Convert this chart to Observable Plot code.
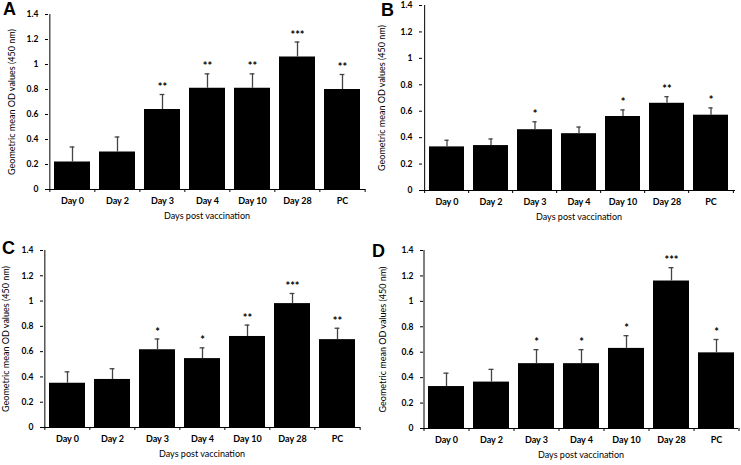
<!DOCTYPE html>
<html><head><meta charset="utf-8">
<script src="https://cdn.jsdelivr.net/npm/d3@7"></script>
<script src="https://cdn.jsdelivr.net/npm/@observablehq/plot@0.6"></script>
<style>
body{margin:0;background:#fff;font-family:Lato,"Open Sans",sans-serif;}
#root{position:relative;width:741px;height:465px;overflow:hidden;}
.panel{position:absolute;}
.letter{position:absolute;font-family:"Liberation Sans",Arial,sans-serif;font-weight:bold;font-size:18px;line-height:18px;}
</style>
</head><body>
<div id="root"></div>
<script>
const days = ["Day 0","Day 2","Day 3","Day 4","Day 10","Day 28","PC"];
const yTicks = [0,0.2,0.4,0.6,0.8,1,1.2,1.4];
const xTitle = "Days post vaccination";
const yTitle = "Geometric mean OD values (450 nm)";

const meanA = [0.22,0.30,0.64,0.81,0.81,1.06,0.80];
const topA  = [0.34,0.42,0.76,0.925,0.925,1.18,0.92];
const starsA = ["","","**","**","**","***","**"];

const meanB = [0.33,0.34,0.46,0.43,0.56,0.66,0.57];
const topB  = [0.38,0.39,0.52,0.48,0.61,0.71,0.625];
const starsB = ["","","*","","*","**","*"];

const meanC = [0.35,0.38,0.615,0.545,0.72,0.98,0.695];
const topC  = [0.44,0.465,0.70,0.63,0.81,1.06,0.785];
const starsC = ["","","*","*","**","***","**"];

const meanD = [0.33,0.365,0.51,0.51,0.63,1.16,0.595];
const topD  = [0.435,0.465,0.62,0.62,0.73,1.265,0.70];
const starsD = ["","","*","*","*","***","*"];

function panel(o){
  const data = days.map((d,i)=>({day:d, mean:o.mean[i], top:o.top[i], star:o.stars[i]}));
  const step = (o.width - o.ml - o.mr)/days.length;
  const bandw = step*0.8;
  const unitPx = (o.height - o.mt - o.mb)/1.4;
  const tickLen = 3/unitPx;
  const plot = Plot.plot({
    width:o.width, height:o.height,
    marginLeft:o.ml, marginRight:o.mr, marginTop:o.mt, marginBottom:o.mb,
    style:{fontFamily:"Lato, 'Open Sans', sans-serif", background:"white", overflow:"visible"},
    x:{domain:days, paddingInner:0.2, paddingOuter:0.1, axis:null},
    y:{domain:[0,1.4], axis:null},
    marks:[
      Plot.barY(data,{x:"day", y:"mean", fill:"black"}),
      Plot.ruleX(data,{x:"day", y1:"mean", y2:"top", stroke:"#444", strokeWidth:1.3}),
      Plot.tickY(data,{x:"day", y:"top", stroke:"#444", strokeWidth:1.3, insetLeft:bandw/2-2.5, insetRight:bandw/2-2.5}),
      Plot.text(data,{x:"day", y:"top", text:"star", dy:-7, fontSize:11, fontWeight:"bold", fill:"black"}),
      Plot.ruleY([0],{stroke:"black", strokeWidth:1}),
      Plot.ruleX([days[0]],{x:d=>d, dx:-step/2, y1:0, y2:1.4, stroke:"black", strokeWidth:1}),
      Plot.ruleX(days,{x:d=>d, dx:-step/2, y1:0, y2:-tickLen, stroke:"black"}),
      Plot.ruleX([days[days.length-1]],{x:d=>d, dx:step/2, y1:0, y2:-tickLen, stroke:"black"}),
      Plot.axisY({ticks:yTicks, tickSize:3, tickPadding:7, tickFormat:d=>String(+d.toFixed(1)), fontSize:8.5, fontWeight:"bold", label:null}),
      Plot.axisX({tickSize:0, tickPadding:8, fontSize:9, fontWeight:"bold", label:null}),
      Plot.text([xTitle],{frameAnchor:"bottom", dy:29, fontSize:9, fill:"black"}),
      Plot.text([yTitle],{frameAnchor:"left", textAnchor:"middle", dx:o.titleDx, rotate:-90, fontSize:9, fill:"black"})
    ]
  });
  const div = document.createElement("div");
  div.className = "panel";
  div.style.left = o.left+"px"; div.style.top = o.topPx+"px";
  div.appendChild(plot);
  const L = document.createElement("div");
  L.className = "letter"; L.textContent = o.letter;
  L.style.left = o.lx+"px"; L.style.top = o.ly+"px";
  document.getElementById("root").appendChild(div);
  document.getElementById("root").appendChild(L);
}

panel({letter:"A", mean:meanA, top:topA, stars:starsA, left:0, topPx:0, width:370, height:232, ml:48, mr:5, mt:14, mb:43, titleDx:-36, lx:3, ly:0});
panel({letter:"B", mean:meanB, top:topB, stars:starsB, left:370, topPx:0, width:371, height:232, ml:52, mr:6, mt:5, mb:42, titleDx:-40, lx:381, ly:1});
panel({letter:"C", mean:meanC, top:topC, stars:starsC, left:0, topPx:232, width:370, height:233, ml:43, mr:10, mt:18, mb:38, titleDx:-37, lx:2, ly:239});
panel({letter:"D", mean:meanD, top:topD, stars:starsD, left:370, topPx:232, width:371, height:233, ml:53, mr:3, mt:18, mb:37, titleDx:-40, lx:372, ly:242});
</script>
</body></html>
